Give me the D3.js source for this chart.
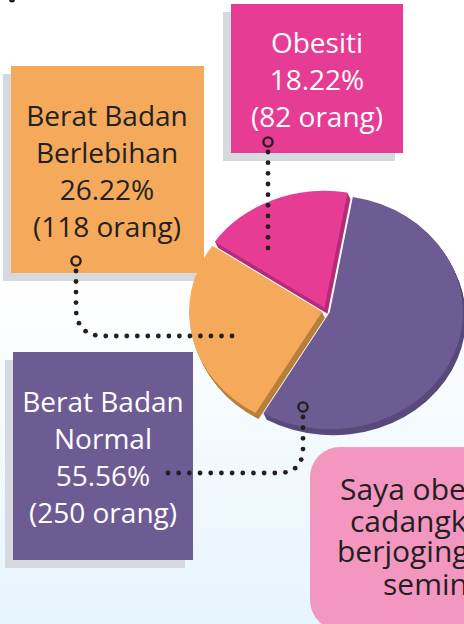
<!DOCTYPE html>
<html>
<head>
<meta charset="utf-8">
<script src="https://cdn.jsdelivr.net/npm/d3@7"></script>
<style>
  html, body { margin: 0; padding: 0; background: #ffffff; }
  svg { display: block; }
  text { font-family: "Open Sans", "Noto Sans", sans-serif; }
</style>
</head>
<body>
<svg id="chart" width="464" height="624"></svg>
<script>
// Status berat badan murid
const categoryLines = [["Berat Badan", "Normal"], ["Berat Badan", "Berlebihan"], ["Obesiti"]];
const counts = [250, 118, 82];
const percents = [55.56, 26.22, 18.22];
const noteLines = ["Saya obesiti.", "cadangkan", "berjoging", "seminggu."];

const W = 464, H = 624;
const svg = d3.select("#chart");
const defs = svg.append("defs");

// soft sky background
const bg = defs.append("linearGradient").attr("id", "bg")
  .attr("x1", 0).attr("y1", 0).attr("x2", 0).attr("y2", 1);
bg.append("stop").attr("offset", "0%").attr("stop-color", "#ffffff");
bg.append("stop").attr("offset", "45%").attr("stop-color", "#ffffff");
bg.append("stop").attr("offset", "100%").attr("stop-color", "#e6f4fc");
svg.append("rect").attr("width", W).attr("height", H).attr("fill", "url(#bg)");

// stray bullet from the paragraph above
svg.append("circle").attr("cx", 12).attr("cy", -0.5).attr("r", 3).attr("fill", "#231f20");

const topColors = ["#6d5b93", "#f4aa5a", "#e63c94"];
const sideColors = ["#594a7b", "#b77f3d", "#b62c79"];
const textColors = ["#ffffff", "#231f20", "#ffffff"];

// label boxes (with grey drop shadow)
const boxes = [
  { x: 13, y: 352, w: 180, h: 208, cx: 103, base: 412 },
  { x: 11, y: 66, w: 193, h: 207, cx: 107, base: 126 },
  { x: 231, y: 4, w: 172, h: 149, cx: 317, base: 53 }
];
const lineH = 37;

boxes.forEach((b, i) => {
  svg.append("rect").attr("x", b.x - 8).attr("y", b.y + 8).attr("width", b.w).attr("height", b.h)
    .attr("fill", "#d6d9dd");
  svg.append("rect").attr("x", b.x).attr("y", b.y).attr("width", b.w).attr("height", b.h)
    .attr("fill", topColors[i]);
  const lines = categoryLines[i].concat([percents[i].toFixed(2) + "%", "(" + counts[i] + " orang)"]);
  svg.append("text")
    .attr("text-anchor", "middle")
    .attr("fill", textColors[i])
    .attr("font-size", 28)
    .selectAll("tspan").data(lines).join("tspan")
    .attr("x", b.cx)
    .attr("y", (d, j) => b.base + j * lineH)
    .text(d => d);
});

// speech bubble (runs off the right edge)
svg.append("rect").attr("x", 310).attr("y", 447).attr("width", 230).attr("height", 183)
  .attr("rx", 30).attr("fill", "#f397c1");
const noteX = [340, 350, 337, 383];
const noteY = [500, 532, 562, 595];
svg.append("text").attr("fill", "#231f20").attr("font-size", 30)
  .selectAll("tspan").data(noteLines).join("tspan")
  .attr("x", (d, j) => noteX[j]).attr("y", (d, j) => noteY[j]).text(d => d);

// tilted, exploded pie
const cx = 326, cy = 311, R = 133, k = 117 / 133, explode = 4;
const start = 10 * Math.PI / 180;
const pie = d3.pie().sort(null).startAngle(start).endAngle(start + 2 * Math.PI);
const arcs = pie(counts);
const arc = d3.arc().innerRadius(0).outerRadius(R);
const depthX = 3, depthY = 6, steps = 6;

const pieG = svg.append("g");
arcs.forEach((a, i) => {
  const mid = (a.startAngle + a.endAngle) / 2;
  const ox = cx + explode * Math.sin(mid);
  const oy = cy - explode * Math.cos(mid) * k;
  const g = pieG.append("g");
  for (let s = steps; s >= 1; s--) {
    g.append("path")
      .attr("transform", `translate(${ox + depthX * s / steps},${oy + depthY * s / steps}) scale(1,${k})`)
      .attr("d", arc(a)).attr("fill", sideColors[i]);
  }
  g.append("path")
    .attr("transform", `translate(${ox},${oy}) scale(1,${k})`)
    .attr("d", arc(a)).attr("fill", topColors[i]);
});

// dotted leader lines
function leader(pathStr, ring) {
  const p = svg.append("path").attr("d", pathStr).attr("fill", "none").attr("stroke", "none");
  const node = p.node();
  const len = node.getTotalLength();
  const n = Math.round(len / 10.5);
  const g = svg.append("g").attr("fill", "#231f20");
  for (let j = 0; j <= n; j++) {
    const pt = node.getPointAtLength(len * j / n);
    g.append("circle").attr("cx", pt.x).attr("cy", pt.y).attr("r", 2.4);
  }
  svg.append("circle").attr("cx", ring[0]).attr("cy", ring[1]).attr("r", 4.6)
    .attr("fill", "none").attr("stroke", "#231f20").attr("stroke-width", 2.4);
}
leader("M268,152 L268,248", [268, 142]);
leader("M76,271 L76,308 Q76,336 104,336 L232,336", [76, 261]);
leader("M303,417 L303,448 Q303,473 278,473 L168,473", [303, 407]);
</script>
</body>
</html>
